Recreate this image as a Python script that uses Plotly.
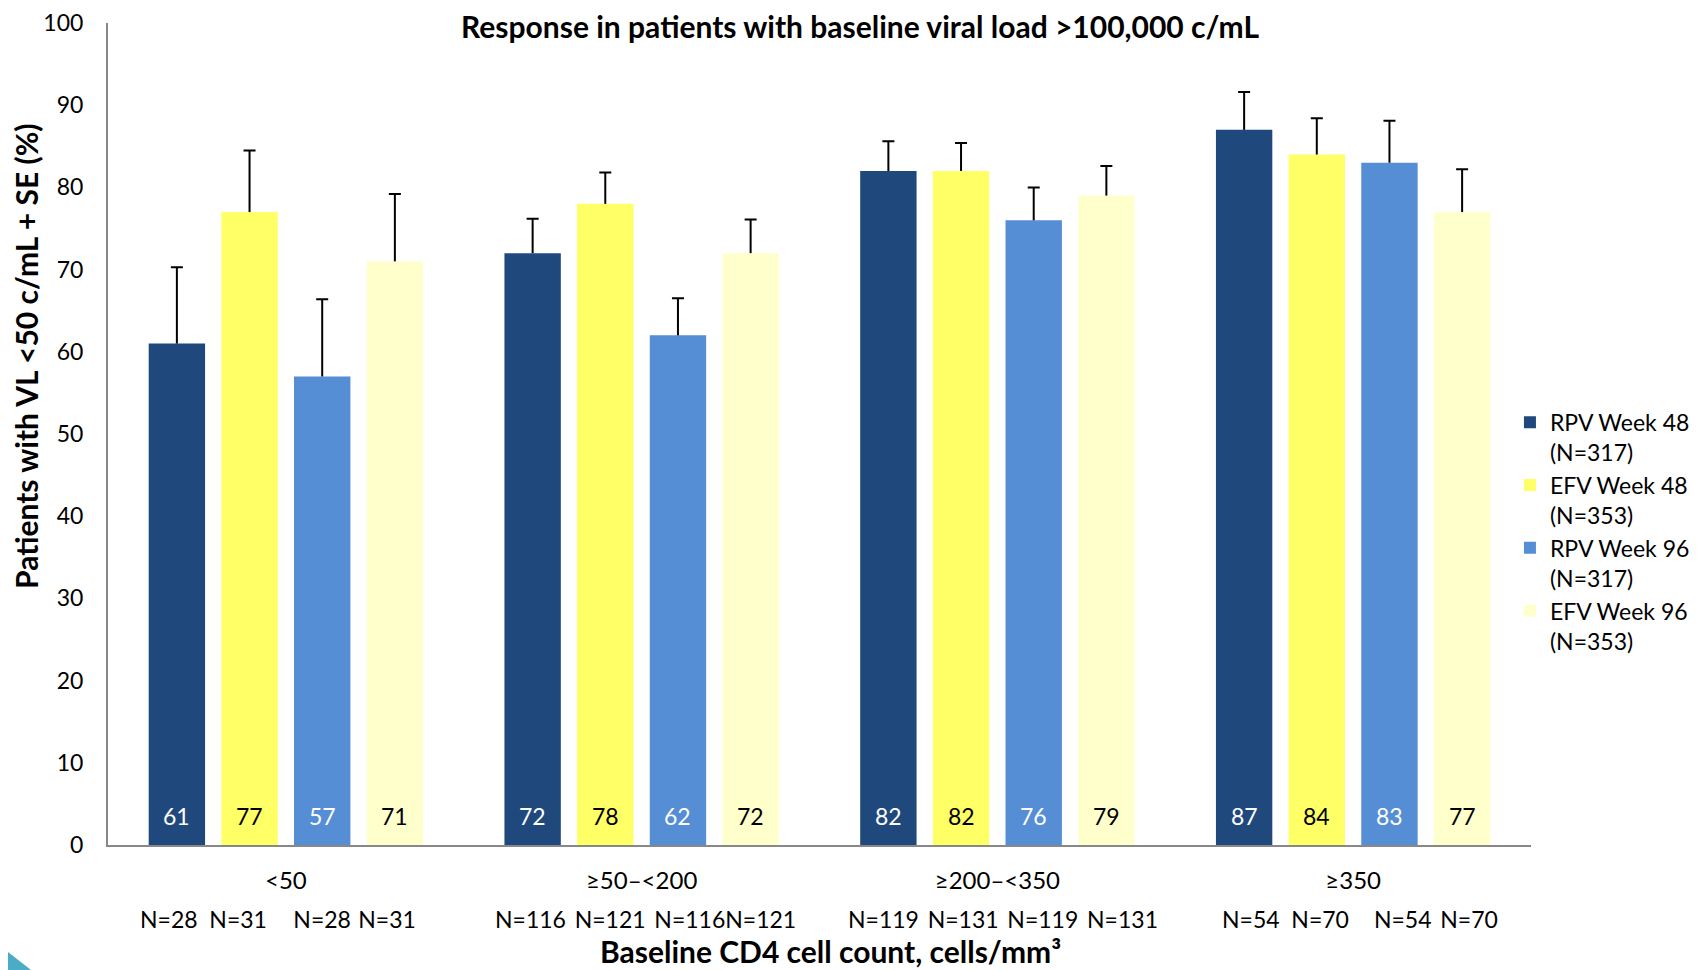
import plotly.graph_objects as go

categories = ["<50", "≥50–<200", "≥200–<350", "≥350"]
series_names = ["RPV Week 48<br>(N=317)", "EFV Week 48<br>(N=353)",
                "RPV Week 96<br>(N=317)", "EFV Week 96<br>(N=353)"]
rpv48 = [61, 72, 82, 87]
efv48 = [77, 78, 82, 84]
rpv96 = [57, 62, 76, 83]
efv96 = [71, 72, 79, 77]
rpv48_se = [9.3, 4.2, 3.6, 4.6]
efv48_se = [7.5, 3.8, 3.4, 4.4]
rpv96_se = [9.4, 4.5, 4.0, 5.1]
efv96_se = [8.2, 4.1, 3.6, 5.2]
n_rpv = [28, 116, 119, 54]
n_efv = [31, 121, 131, 70]

values = [rpv48, efv48, rpv96, efv96]
ses = [rpv48_se, efv48_se, rpv96_se, efv96_se]
ns = [n_rpv, n_efv, n_rpv, n_efv]
colors = ["#1F497D", "#FFFF66", "#558ED5", "#FFFFCC"]
text_colors = ["white", "black", "white", "black"]

FONT = "Lato"
BARGAP = 0.183
NB, TH, HR = "\u00a0", "\u2009", "\u200a"

fig = go.Figure()
for j, (name, vals, se, col) in enumerate(zip(series_names, values, ses, colors)):
    # bar with the vertical SE stem (no caps)
    fig.add_trace(go.Bar(
        x=categories, y=vals, name=name, offsetgroup=str(j),
        marker=dict(color=col, line=dict(width=0)),
        error_y=dict(type="data", array=se, arrayminus=[0] * len(se), symmetric=False,
                     color="black", thickness=2, width=0),
    ))
    # transparent bar carrying only the cap at value + SE
    fig.add_trace(go.Bar(
        x=categories, y=[v + s for v, s in zip(vals, se)], offsetgroup=str(j),
        marker=dict(color="rgba(0,0,0,0)", line=dict(width=0)),
        showlegend=False, hoverinfo="skip",
        error_y=dict(type="data", array=[0] * len(se), symmetric=True,
                     color="black", thickness=2, width=6),
    ))

slot = (1 - BARGAP) / 4
annotations = []
for j, (vals, tc) in enumerate(zip(values, text_colors)):
    off = (j - 1.5) * slot
    for i, v in enumerate(vals):
        annotations.append(dict(x=i + off, y=0, xref="x", yref="y", text=str(v),
                                showarrow=False, yanchor="bottom", yshift=13,
                                font=dict(family=FONT, size=23, color=tc)))

# one N= row per category (a text line under the category label)
row_gaps = [[NB * 2, NB * 4 + TH, NB + HR],
            [NB + TH, NB + TH, ""],
            [NB + TH, NB + TH, NB + TH],
            [NB * 2, NB * 4 + HR, NB + TH]]
row_shift = [-8, 4, 6, 7]
for i in range(len(categories)):
    labels = [f"N={nn[i]}" for nn in ns]
    row = labels[0]
    for lab, g in zip(labels[1:], row_gaps[i]):
        row += g + lab
    annotations.append(dict(x=i, y=0, xref="x", yref="y", text=row, xshift=row_shift[i],
                            showarrow=False, yanchor="middle", yshift=-74,
                            font=dict(family=FONT, size=23, color="black")))

annotations.append(dict(x=-0.0576, y=0.595, xref="paper", yref="paper",
                        xanchor="center", yanchor="middle",
                        text="<b>Patients with VL <50 c/mL + SE (%)</b>", textangle=-90,
                        showarrow=False, font=dict(family=FONT, size=30, color="black")))
annotations.append(dict(x=0.508, y=-0.129, xref="paper", yref="paper",
                        text="<b>Baseline CD4 cell count, cells/mm³</b>",
                        showarrow=False, yanchor="middle",
                        font=dict(family=FONT, size=30, color="black")))

fig.update_layout(
    width=1700, height=962,
    margin=dict(l=100, r=177, t=15, b=125, autoexpand=False),
    paper_bgcolor="white", plot_bgcolor="white",
    barmode="group", bargap=BARGAP, bargroupgap=0.224,
    title=dict(text="<b>Response in patients with baseline viral load >100,000 c/mL</b>",
               x=0.5012, xanchor="center", y=0.98, yanchor="middle",
               font=dict(family=FONT, size=30, color="black")),
    font=dict(family=FONT, size=23, color="black"),
    legend=dict(x=0.8835, xref="container", xanchor="left", y=0.381, yanchor="middle",
                valign="top", itemwidth=30, tracegroupgap=0,
                font=dict(family=FONT, size=23, color="black")),
    annotations=annotations,
    shapes=[dict(type="path", xref="paper", yref="paper",
                 path="M -0.08,-0.117 L -0.08,-0.153 L -0.0534,-0.153 Z",
                 fillcolor="#4BACC6", line=dict(width=0))],
)
fig.update_yaxes(range=[0, 100], dtick=10, showgrid=False, zeroline=False,
                 showline=True, linecolor="#888888", linewidth=2, automargin=False,
                 ticks="", ticklabelstandoff=18,
                 tickfont=dict(family=FONT, size=23, color="black"))
fig.update_xaxes(showgrid=False, showline=True, linecolor="#888888", linewidth=2,
                 automargin=False, ticks="", ticklabelstandoff=13,
                 tickfont=dict(family=FONT, size=24, color="black"))

fig.write_html("out.html")
